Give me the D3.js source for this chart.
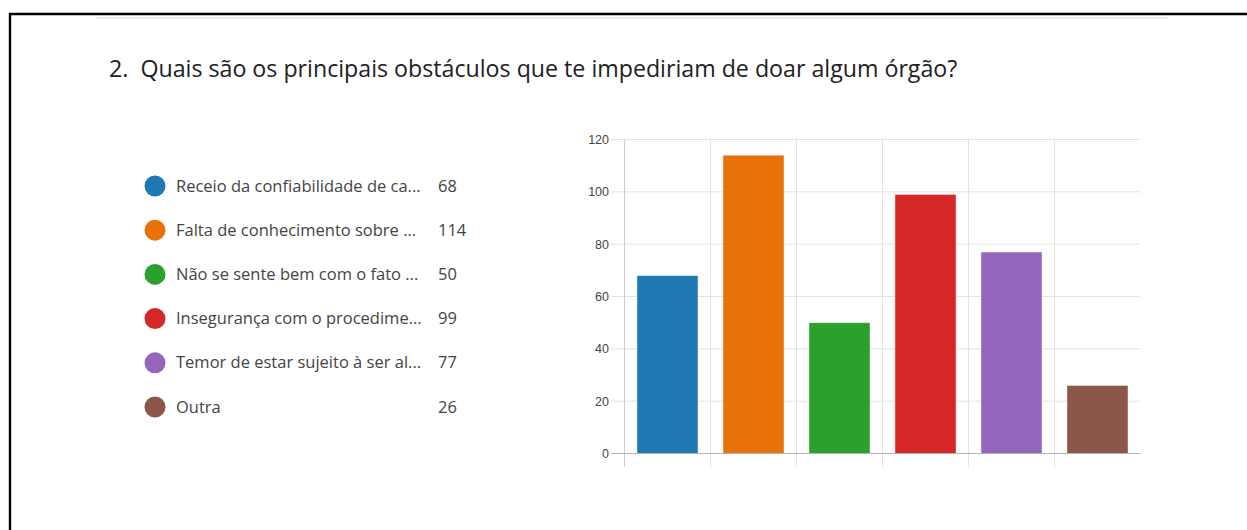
<!DOCTYPE html>
<html>
<head>
<meta charset="utf-8">
<script src="https://cdn.jsdelivr.net/npm/d3@7"></script>
<style>
  html, body { margin: 0; padding: 0; background: #fff; }
  svg { display: block; }
</style>
</head>
<body>
<svg id="chart" width="1247" height="530"></svg>
<script>
const title = "2.  Quais são os principais obstáculos que te impediriam de doar algum órgão?";
const categories = [
  "Receio da confiabilidade de ca...",
  "Falta de conhecimento sobre ...",
  "Não se sente bem com o fato ...",
  "Insegurança com o procedime...",
  "Temor de estar sujeito à ser al...",
  "Outra"
];
const values = [68, 114, 50, 99, 77, 26];
const colors = ["#1f77b4", "#e8710a", "#2ca02c", "#d62728", "#9467bd", "#8c564b"];
const yTicks = [0, 20, 40, 60, 80, 100, 120];

const svg = d3.select("#chart");
const font = "'Open Sans', 'Noto Sans', sans-serif";

// frame
svg.append("path")
  .attr("d", "M10,530 V14 H1247")
  .attr("fill", "none").attr("stroke", "#000").attr("stroke-width", 2.4);
svg.append("line")
  .attr("x1", 96).attr("x2", 1168).attr("y1", 18).attr("y2", 18)
  .attr("stroke", "#eeeeee").attr("stroke-width", 2);

// title
const t = svg.append("text")
  .attr("x", 109).attr("y", 77)
  .attr("font-family", font).attr("font-size", 20)
  .attr("fill", "#202124")
  .style("white-space", "pre")
  .text(title);
const w = t.node().getComputedTextLength();
t.attr("font-size", 20 * 849 / w);

// legend
const legendY = d3.scalePoint().domain(categories).range([186, 407]);
const lg = svg.append("g");
const items = lg.selectAll("g").data(categories).join("g")
  .attr("transform", d => `translate(0,${legendY(d)})`);
items.append("circle").attr("cx", 155).attr("cy", 0).attr("r", 10.5)
  .attr("fill", (d, i) => colors[i]);
const labels = items.append("text").attr("class", "lbl").attr("x", 176).attr("y", 5.5)
  .attr("font-family", font).attr("font-size", 14.5).attr("fill", "#444")
  .text(d => d);
const vals = items.append("text").attr("x", 438).attr("y", 5.5)
  .attr("font-family", font).attr("font-size", 14.5).attr("fill", "#444")
  .text((d, i) => values[i]);
const lw = labels.node().getComputedTextLength();
const lfs = Math.min(16.5, 14.5 * 252 / lw);
labels.attr("font-size", lfs);
vals.attr("font-size", lfs);

// chart
const x = d3.scaleBand().domain(categories).range([624.5, 1140.5]).padding(0);
const y = d3.scaleLinear().domain([0, 120]).range([453.5, 139.5]);
const g = svg.append("g");

g.selectAll("line.h").data(yTicks.filter(v => v > 0)).join("line")
  .attr("class", "h")
  .attr("x1", 611).attr("x2", 1140.5)
  .attr("y1", d => y(d)).attr("y2", d => y(d))
  .attr("stroke", "#e3e3e3").attr("stroke-width", 1);

g.selectAll("line.v").data(categories.slice(1)).join("line")
  .attr("class", "v")
  .attr("x1", d => x(d)).attr("x2", d => x(d))
  .attr("y1", y(120)).attr("y2", 467)
  .attr("stroke", "#e3e3e3").attr("stroke-width", 1);

const inset = x.bandwidth() * 0.145;
g.selectAll("rect.bar").data(values).join("rect")
  .attr("class", "bar")
  .attr("x", (d, i) => x(categories[i]) + inset)
  .attr("width", x.bandwidth() - 2 * inset)
  .attr("y", d => y(d))
  .attr("height", d => y(0) - y(d))
  .attr("fill", (d, i) => colors[i])
  .attr("stroke", "rgba(255,255,255,0.45)").attr("stroke-width", 1);

g.append("line")
  .attr("x1", x.range()[0]).attr("x2", x.range()[0])
  .attr("y1", y(120)).attr("y2", 467)
  .attr("stroke", "#cccccc").attr("stroke-width", 1);
g.append("line")
  .attr("x1", 611).attr("x2", 1140.5)
  .attr("y1", y(0)).attr("y2", y(0))
  .attr("stroke", "#b5b5b5").attr("stroke-width", 1);

g.selectAll("text.tick").data(yTicks).join("text")
  .attr("class", "tick")
  .attr("x", 609).attr("y", d => y(d) + 4.5)
  .attr("text-anchor", "end")
  .attr("font-family", "'Liberation Sans', Arial, sans-serif")
  .attr("font-size", 12.5).attr("fill", "#444")
  .text(d => d);
</script>
</body>
</html>
